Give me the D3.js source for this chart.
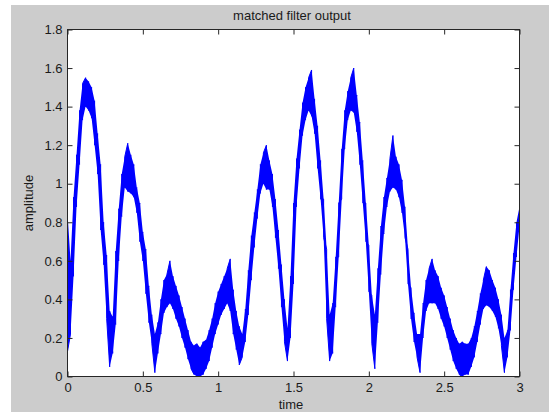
<!DOCTYPE html>
<html><head><meta charset="utf-8">
<script src="https://cdn.jsdelivr.net/npm/d3@7"></script>
<style>html,body{margin:0;padding:0;background:#fff;} svg{display:block;}</style>
</head><body>
<svg id="chart" width="549" height="414"></svg>
<script>
const chartTitle = "matched filter output";
const xLabel = "time";
const yLabel = "amplitude";
const xTicks = [0, 0.5, 1, 1.5, 2, 2.5, 3];
const yTicks = [0, 0.2, 0.4, 0.6, 0.8, 1, 1.2, 1.4, 1.6, 1.8];
const sampleStart = 0;
const sampleStep = 0.02;
// envelope (min / max) of the noisy output within each 0.02 s bin
const lowValues = [
 0.13,0.22,0.52,0.88,1.10,1.33,1.40,1.38,1.34,1.20,
 1.05,0.76,0.58,0.30,0.05,0.12,0.27,0.60,0.83,0.98,
 0.96,0.95,0.93,0.85,0.70,0.60,0.43,0.28,0.17,0.02,
 0.12,0.22,0.33,0.36,0.38,0.35,0.30,0.26,0.20,0.15,
 0.09,0.04,0.01,0.00,0.00,0.01,0.04,0.08,0.15,0.22,
 0.27,0.32,0.35,0.38,0.34,0.22,0.14,0.06,0.10,0.18,
 0.32,0.50,0.67,0.82,0.95,1.00,0.97,0.97,0.88,0.72,
 0.56,0.36,0.18,0.08,0.20,0.48,0.88,1.08,1.25,1.33,
 1.38,1.35,1.26,1.08,0.92,0.72,0.30,0.08,0.12,0.36,
 0.62,0.92,1.18,1.33,1.38,1.37,1.27,1.10,0.90,0.70,
 0.44,0.17,0.04,0.28,0.53,0.74,0.88,0.96,0.98,0.97,
 0.93,0.85,0.72,0.48,0.30,0.18,0.10,0.02,0.20,0.34,
 0.38,0.38,0.38,0.35,0.30,0.26,0.20,0.14,0.08,0.04,
 0.01,0.00,0.01,0.01,0.05,0.10,0.18,0.27,0.35,0.37,
 0.36,0.34,0.31,0.25,0.16,0.02,0.10,0.24,0.45,0.62,
 0.78
];
const highValues = [
 0.85,0.60,0.93,1.15,1.38,1.52,1.55,1.53,1.50,1.43,
 1.26,1.10,0.80,0.63,0.34,0.31,0.65,0.87,1.05,1.14,
 1.21,1.15,1.10,0.98,0.90,0.75,0.66,0.47,0.32,0.22,
 0.28,0.40,0.50,0.53,0.60,0.52,0.47,0.42,0.36,0.30,
 0.24,0.18,0.16,0.17,0.15,0.18,0.19,0.24,0.30,0.38,
 0.44,0.48,0.52,0.56,0.61,0.45,0.34,0.26,0.22,0.35,
 0.55,0.73,0.85,0.97,1.10,1.16,1.20,1.12,1.05,0.92,
 0.76,0.58,0.40,0.25,0.52,0.90,1.13,1.28,1.42,1.50,
 1.55,1.59,1.44,1.30,1.12,0.92,0.66,0.32,0.38,0.62,
 0.90,1.18,1.38,1.48,1.55,1.60,1.46,1.32,1.12,0.90,
 0.68,0.42,0.32,0.56,0.78,0.93,1.03,1.13,1.25,1.14,
 1.10,1.02,0.88,0.66,0.46,0.33,0.22,0.22,0.38,0.50,
 0.56,0.61,0.55,0.52,0.46,0.42,0.36,0.30,0.24,0.20,
 0.17,0.18,0.17,0.17,0.20,0.26,0.34,0.43,0.50,0.57,
 0.55,0.50,0.46,0.40,0.32,0.20,0.24,0.45,0.64,0.80,
 0.88
];

const svg = d3.select("#chart");
const font = "'Liberation Sans', Arial, sans-serif";
svg.append("rect").attr("x", 11).attr("y", 5).attr("width", 538).attr("height", 407).attr("fill", "#cccccc");

const plot = {left: 67.5, top: 29.5, right: 519.5, bottom: 376.5};
const x = d3.scaleLinear().domain([0, 3]).range([plot.left, plot.right]);
const y = d3.scaleLinear().domain([0, 1.8]).range([plot.bottom, plot.top]);

svg.append("rect").attr("x", plot.left).attr("y", plot.top)
  .attr("width", plot.right - plot.left).attr("height", plot.bottom - plot.top).attr("fill", "#ffffff");

svg.append("clipPath").attr("id", "clip").append("rect")
  .attr("x", plot.left).attr("y", plot.top)
  .attr("width", plot.right - plot.left).attr("height", plot.bottom - plot.top);

const bins = lowValues.map((lo, i) => ({t: sampleStart + i * sampleStep, lo: lo, hi: highValues[i]}));

// dense noisy band: filled between each bin's min and max
const band = d3.area().x(d => x(d.t)).y0(d => y(d.lo)).y1(d => y(d.hi));
svg.append("path").attr("d", band(bins)).attr("fill", "#0000ff")
  .attr("clip-path", "url(#clip)");

// zig-zag trace through each bin's min and max
const pts = [];
bins.forEach((b, i) => {
  const next = bins[i + 1];
  const nextMid = next ? (next.lo + next.hi) / 2 : b.hi;
  if (Math.abs(nextMid - b.hi) < Math.abs(nextMid - b.lo)) { pts.push([b.t, b.lo]); pts.push([b.t, b.hi]); }
  else { pts.push([b.t, b.hi]); pts.push([b.t, b.lo]); }
});
const line = d3.line().x(d => x(d[0])).y(d => y(d[1]));
svg.append("path").attr("d", line(pts)).attr("fill", "none")
  .attr("stroke", "#0000ff").attr("stroke-width", 1).attr("clip-path", "url(#clip)");

function styleAxis(g) {
  g.select(".domain").remove();
  g.selectAll(".tick line").attr("stroke", "#262626");
  g.selectAll(".tick text").attr("fill", "#1a1a1a").style("font-family", font).style("font-size", "13px");
}
svg.append("g").attr("transform", `translate(0,${plot.bottom})`)
  .call(d3.axisBottom(x).tickValues(xTicks).tickFormat(d => String(d)).tickSizeInner(-5).tickSizeOuter(0).tickPadding(6))
  .call(styleAxis);
svg.append("g").attr("transform", `translate(${plot.left},0)`)
  .call(d3.axisLeft(y).tickValues(yTicks).tickFormat(d => String(d)).tickSizeInner(-5).tickSizeOuter(0).tickPadding(5))
  .call(styleAxis);
svg.append("g").attr("transform", `translate(0,${plot.top})`)
  .call(d3.axisTop(x).tickValues(xTicks).tickFormat("").tickSizeInner(-5).tickSizeOuter(0))
  .call(styleAxis);
svg.append("g").attr("transform", `translate(${plot.right},0)`)
  .call(d3.axisRight(y).tickValues(yTicks).tickFormat("").tickSizeInner(-5).tickSizeOuter(0))
  .call(styleAxis);

svg.append("rect").attr("x", plot.left).attr("y", plot.top)
  .attr("width", plot.right - plot.left).attr("height", plot.bottom - plot.top)
  .attr("fill", "none").attr("stroke", "#262626").attr("stroke-width", 1);

svg.append("text").attr("x", 292).attr("y", 19.5).attr("text-anchor", "middle")
  .style("font-family", font).style("font-size", "13px").attr("fill", "#1a1a1a").text(chartTitle);
svg.append("text").attr("x", 291).attr("y", 409).attr("text-anchor", "middle")
  .style("font-family", font).style("font-size", "13px").attr("fill", "#1a1a1a").text(xLabel);
svg.append("text").attr("transform", "translate(33,203) rotate(-90)").attr("text-anchor", "middle")
  .style("font-family", font).style("font-size", "13px").attr("fill", "#1a1a1a").text(yLabel);
</script>
</body></html>
